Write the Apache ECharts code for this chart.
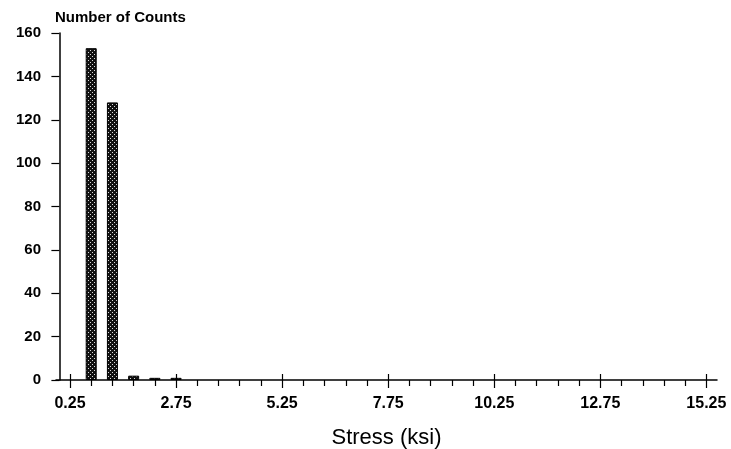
<!DOCTYPE html>
<html><head><meta charset="utf-8">
<script src="https://cdn.jsdelivr.net/npm/echarts@6/dist/echarts.min.js"></script>
<style>html,body{margin:0;padding:0;background:#fff}#c{width:731px;height:449px}</style>
</head><body><div id="c"></div>
<script>
// Data
var binCenters = [0.75, 1.25, 1.75, 2.25, 2.75];
var counts = [153, 128, 2, 1, 1];
var majorTicks = [0.25, 2.75, 5.25, 7.75, 10.25, 12.75, 15.25];
var minorTicks = [0.75, 1.25, 1.75, 2.25, 3.25, 3.75, 4.25, 4.75, 5.75, 6.25, 6.75, 7.25, 8.25, 8.75, 9.25, 9.75, 10.75, 11.25, 11.75, 12.25, 13.25, 13.75, 14.25, 14.75];
var yTitle = 'Number of Counts';
var xTitle = 'Stress (ksi)';

var cv = document.createElement('canvas');
cv.width = 4; cv.height = 4;
var cx = cv.getContext('2d');
cx.fillStyle = '#111'; cx.fillRect(0,0,4,4);
cx.fillStyle = '#dcdcdc';
cx.fillRect(0,0,1,1); cx.fillRect(2,2,1,1);

var font = 'Liberation Sans, Arial, sans-serif';
var chart = echarts.init(document.getElementById('c'), null, {renderer:'canvas'});
var xMin = -0.08, xMax = 15.5;
var baseX = {type:'value', position:'bottom', min:xMin, max:xMax, splitLine:{show:false}, axisLine:{show:false}, axisLabel:{show:false}, axisTick:{show:false}};
chart.setOption({
  animation:false,
  grid:{left:56, right:14, top:33, bottom:69, outerBoundsMode:'none', containLabel:false},
  title:{text:yTitle, left:50, top:5, textStyle:{fontFamily:font, fontSize:15, fontWeight:'bold', color:'#000'}},
  xAxis:[
    {type:'value', position:'bottom', min:xMin, max:xMax, splitLine:{show:false},
     axisLine:{show:true, lineStyle:{color:'#000', width:1.5}},
     axisTick:{show:true, customValues:majorTicks, length:8, lineStyle:{color:'#000', width:1.2}},
     axisLabel:{show:true, customValues:majorTicks, margin:16, fontFamily:font, fontSize:16, fontWeight:'bold', color:'#000', formatter:function(v){return v.toFixed(2);}},
     name:xTitle, nameLocation:'middle', nameGap:47, nameTextStyle:{fontFamily:font, fontSize:22, color:'#000'}},
    Object.assign({}, baseX, {axisTick:{show:true, customValues:minorTicks, length:6, lineStyle:{color:'#000', width:1.2}}}),
    Object.assign({}, baseX, {axisTick:{show:true, inside:true, customValues:majorTicks, length:6, lineStyle:{color:'#000', width:1.2}}})
  ],
  yAxis:{type:'value', min:0, max:160, interval:20, splitLine:{show:false},
    axisLine:{show:true, lineStyle:{color:'#000', width:1.5}},
    axisTick:{show:true, length:8, lineStyle:{color:'#000', width:1.2}},
    axisLabel:{margin:15, fontFamily:font, fontSize:15, fontWeight:'bold', color:'#000'}},
  series:[{type:'bar', xAxisIndex:0, barWidth:11,
    data: binCenters.map(function(x,i){return [x, counts[i]];}),
    itemStyle:{color:{image:cv, repeat:'repeat'}, borderColor:'#000', borderWidth:1}}]
});
</script></body></html>
